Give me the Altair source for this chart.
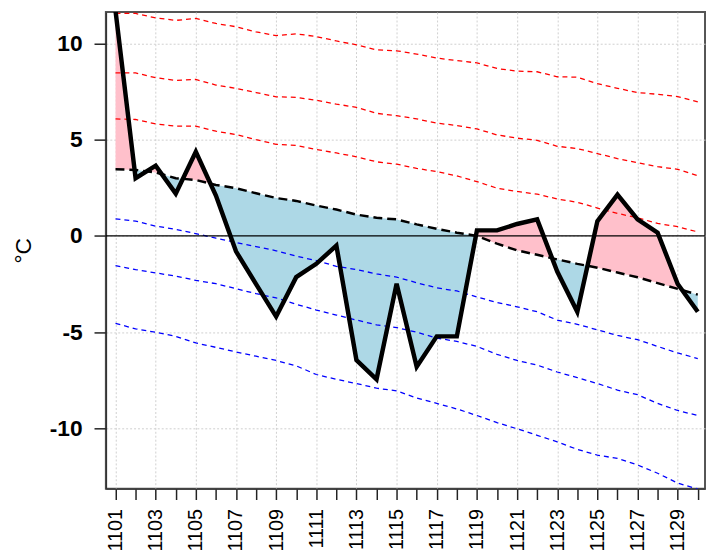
import altair as alt
import pandas as pd

days = list(range(1, 31))
observed = [11.7, 3.0, 3.65, 2.2, 4.37, 2.1, -0.8, -2.5, -4.19, -2.14,
            -1.45, -0.5, -6.45, -7.45, -2.48, -6.8, -5.22, -5.22, 0.29, 0.29,
            0.62, 0.86, -1.85, -3.94, 0.77, 2.15, 0.86, 0.17, -2.5, -3.94]
normal = [3.46, 3.43, 3.3, 3.0, 2.91, 2.65, 2.48, 2.22, 1.97, 1.82,
          1.58, 1.37, 1.11, 0.94, 0.86, 0.6, 0.37, 0.17, 0.0, -0.4,
          -0.75, -0.98, -1.22, -1.45, -1.65, -1.9, -2.15, -2.45, -2.75, -3.05]
plus3 = [11.56, 11.56, 11.33, 11.2, 11.3, 11.04, 10.87, 10.6, 10.41, 10.5,
         10.36, 10.13, 9.93, 9.67, 9.62, 9.45, 9.24, 9.11, 8.99, 8.7,
         8.56, 8.53, 8.27, 8.25, 7.91, 7.67, 7.45, 7.36, 7.24, 6.97]
plus2 = [8.47, 8.47, 8.22, 8.08, 8.13, 7.84, 7.67, 7.45, 7.23, 7.2,
         7.05, 6.85, 6.68, 6.37, 6.25, 6.08, 5.86, 5.74, 5.56, 5.25,
         5.08, 4.97, 4.66, 4.54, 4.28, 4.02, 3.8, 3.6, 3.46, 3.13]
plus1 = [6.08, 6.05, 5.82, 5.7, 5.7, 5.44, 5.27, 5.0, 4.76, 4.7,
         4.49, 4.31, 4.11, 3.85, 3.73, 3.51, 3.34, 3.12, 2.82, 2.48,
         2.31, 2.17, 1.92, 1.75, 1.45, 1.17, 0.94, 0.65, 0.48, 0.21]
minus1 = [0.89, 0.77, 0.51, 0.34, 0.12, -0.12, -0.34, -0.55, -0.77, -1.05,
          -1.28, -1.58, -1.75, -1.97, -2.14, -2.43, -2.7, -2.86, -3.17, -3.46,
          -3.68, -3.94, -4.37, -4.59, -4.88, -5.17, -5.39, -5.74, -6.08, -6.37]
minus2 = [-1.54, -1.75, -1.92, -2.09, -2.31, -2.48, -2.74, -3.0, -3.22, -3.55,
          -3.85, -4.11, -4.37, -4.62, -4.76, -5.0, -5.31, -5.48, -5.74, -6.15,
          -6.47, -6.71, -7.07, -7.36, -7.67, -8.01, -8.25, -8.7, -9.07, -9.33]
minus3 = [-4.54, -4.83, -5.0, -5.22, -5.56, -5.79, -6.03, -6.25, -6.47, -6.75,
          -7.2, -7.45, -7.67, -7.91, -8.05, -8.42, -8.7, -8.99, -9.33, -9.7,
          -10.02, -10.36, -10.7, -11.09, -11.39, -11.56, -11.9, -12.33, -12.84, -13.15]
y_ticks = [-10, -5, 0, 5, 10]

# fill polygons between observed and normal, with crossing points inserted
rows = []
for i in range(len(days)):
    rows.append((days[i], observed[i], normal[i]))
    if i < len(days) - 1:
        d0 = observed[i] - normal[i]
        d1 = observed[i + 1] - normal[i + 1]
        if d0 * d1 < 0:
            t = d0 / (d0 - d1)
            xc = days[i] + t * (days[i + 1] - days[i])
            yc = observed[i] + t * (observed[i + 1] - observed[i])
            rows.append((xc, yc, yc))
fill_df = pd.DataFrame(rows, columns=["x", "o", "n"])
fill_df["hi"] = fill_df[["o", "n"]].max(axis=1)
fill_df["lo"] = fill_df[["o", "n"]].min(axis=1)

band_names = ["p3", "p2", "p1", "m1", "m2", "m3"]
band_vals = [plus3, plus2, plus1, minus1, minus2, minus3]
band_df = pd.DataFrame(
    [(d, v, name) for name, vals in zip(band_names, band_vals) for d, v in zip(days, vals)],
    columns=["x", "y", "series"])
line_df = pd.DataFrame({"x": days, "obs": observed, "normal": normal})
zero_df = pd.DataFrame({"y": [0]})

xscale = alt.Scale(domain=[0.52, 30.36], nice=False, zero=False)
yscale = alt.Scale(domain=[-13.13, 11.63], nice=False, zero=False)

xaxis = alt.Axis(
    values=days, title=None, labelAngle=270, labelAlign="right", labelBaseline="middle",
    labelExpr="datum.value % 2 == 1 ? '11' + (datum.value < 10 ? '0' : '') + datum.value : ''",
    labelOverlap=False, labelFlush=False, labelFontSize=20, labelFont="Liberation Sans",
    labelColor="black", labelPadding=9, tickSize=11, tickColor="#222", tickWidth=1.5,
    domainColor="#333", domainWidth=1.5,
    grid=True, gridColor="#cfcfcf", gridDash=[2, 2], gridWidth=1,
    gridOpacity={"condition": {"test": "datum.value % 2 == 1", "value": 1}, "value": 0},
)
yaxis = alt.Axis(
    values=y_ticks, title="°C", titleFontSize=23, titleFontWeight="normal",
    titleFont="Liberation Sans", titleColor="black", titleAngle=270,
    titleX=-83, titleY=241, titleAlign="center", titleBaseline="middle",
    labelExpr="'' + datum.value", labelFontSize=23, labelFontWeight="bold",
    labelFont="Liberation Sans", labelColor="black", labelPadding=12,
    tickSize=12, tickColor="#222", tickWidth=1.5, domainColor="#333", domainWidth=1.5,
    grid=True, gridColor="#cfcfcf", gridDash=[2, 2], gridWidth=1,
)


def X(f):
    return alt.X(f, type="quantitative", scale=xscale, axis=xaxis)


def Y(f):
    return alt.Y(f, type="quantitative", scale=yscale, axis=yaxis)


pink = alt.Chart(fill_df).mark_area(color="#ffc0cb", opacity=1, clip=True).encode(
    x=X("x"), y=Y("hi"), y2="n:Q")
blue = alt.Chart(fill_df).mark_area(color="#add8e6", opacity=1, clip=True).encode(
    x=X("x"), y=Y("lo"), y2="n:Q")
bands = alt.Chart(band_df).mark_line(strokeDash=[5, 4], strokeWidth=1.3, clip=True).encode(
    x=X("x"), y=Y("y"),
    color=alt.Color("series:N", scale=alt.Scale(domain=band_names,
                    range=["#ff0000"] * 3 + ["#0000ff"] * 3), legend=None),
    detail="series:N")
norm_line = alt.Chart(line_df).mark_line(color="black", strokeDash=[9, 5], strokeWidth=2.5,
                                         clip=True).encode(x=X("x"), y=Y("normal"))
zero = alt.Chart(zero_df).mark_rule(color="black", strokeWidth=1.3).encode(y=Y("y"))
obs_line = alt.Chart(line_df).mark_line(color="black", strokeWidth=4.5, strokeJoin="miter",
                                        clip=True).encode(x=X("x"), y=Y("obs"))

chart = alt.layer(pink, blue, bands, norm_line, zero, obs_line).properties(
    width=606, height=482,
    autosize=alt.AutoSizeParams(type="none"),
    padding={"left": 99, "top": 1, "right": 1, "bottom": 66},
    background="white",
).configure_view(stroke="#555", strokeWidth=2)

chart.save("out.html", embed_options={"renderer": "svg", "actions": False})
